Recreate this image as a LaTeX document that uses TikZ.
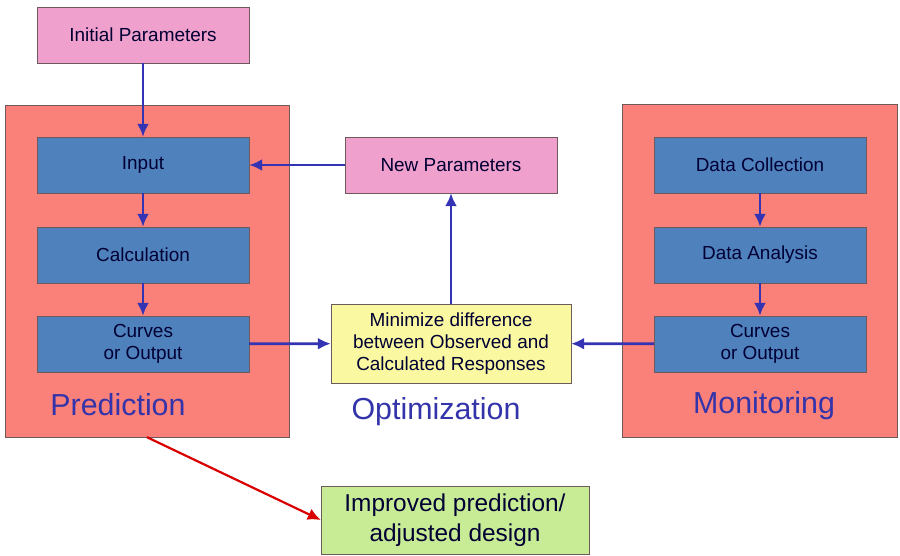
\documentclass[tikz,border=0pt]{standalone}
\usepackage{fontspec}
\setmainfont{Liberation Sans}
\usetikzlibrary{arrows.meta}
\definecolor{stageblue}{RGB}{79,129,189}
\definecolor{stagered}{RGB}{250,128,122}
\definecolor{parampink}{RGB}{240,160,204}
\definecolor{minyellow}{RGB}{250,248,160}
\definecolor{resgreen}{RGB}{200,236,150}
\definecolor{flowblue}{RGB}{51,51,180}
\definecolor{labelblue}{RGB}{52,52,170}
\definecolor{edgegray}{RGB}{110,90,90}

\begin{document}
\begin{tikzpicture}[x=1bp, y=-1bp,
  stage/.style={draw=edgegray, fill=stagered, minimum width=284bp, minimum height=332bp, inner sep=0pt},
  stepbox/.style={draw=edgegray, fill=stageblue, minimum width=212bp, minimum height=56bp, inner sep=0pt, text=black!80!blue, align=center, font=\fontsize{19}{22}\selectfont},
  parbox/.style={stepbox, fill=parampink},
  flow/.style={-{Latex[length=13bp,width=12bp]}, line width=2.8bp, flowblue},
  title/.style={text=labelblue, font=\fontsize{30.5}{34}\selectfont}]
\useasboundingbox (0,0) rectangle (900,556);

% Stage frames
\node[stage] (pred) at (147,271) {};
\node[stage, minimum width=275bp, minimum height=333bp] (moni) at (759.5,270.5) {};

% Prediction side
\node[parbox] (init) at (143,35) {Initial Parameters};
\node[stepbox] (input) at (143,165) {Input};
\node[stepbox] (calc) at (143,255) {Calculation};
\node[stepbox] (curvl) at (143,344) {Curves\\or Output};
\node[title] (predlab) at (118,405) {Prediction};

% Optimization
\node[parbox] (newpar) at (451,165) {New Parameters};
\node[stepbox, fill=minyellow, minimum width=240bp, minimum height=79bp] (mini) at (451,343.5) {Minimize difference\\between Observed and\\Calculated Responses};
\node[title] (optlab) at (436,412) {Optimization};

% Monitoring side
\node[stepbox] (dcol) at (760,165) {Data Collection};
\node[stepbox] (dana) at (760,255) {Data Analysis};
\node[stepbox] (curvr) at (760,344) {Curves\\or Output};
\node[title] (monlab) at (764,406) {Monitoring};

% Result
\node[stepbox, fill=resgreen, minimum width=268bp, minimum height=68bp, font=\fontsize{24.5}{30}\selectfont] (result) at (455,520) {Improved prediction/\\adjusted design};

% Arrows
\draw[flow] (init) -- (input);
\draw[flow] (input) -- (calc);
\draw[flow] (calc) -- (curvl);
\draw[flow] (newpar) -- (input);
\draw[flow] (curvl) -- (mini);
\draw[flow] (mini) -- (newpar);
\draw[flow] (curvr) -- (mini);
\draw[flow] (dcol) -- (dana);
\draw[flow] (dana) -- (curvr);
\draw[-{Latex[length=13bp,width=12bp]}, line width=2.2bp, red!85!black] (pred.south) -- (result.west);
\end{tikzpicture}
\end{document}
